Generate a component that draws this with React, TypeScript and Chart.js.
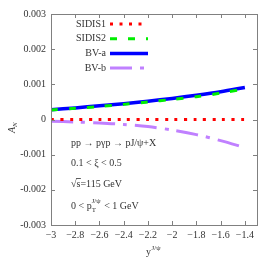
import React, { useEffect, useRef } from "react";
import { Chart, registerables } from "chart.js";

Chart.register(...registerables);

const xValues = [-3, -2.8, -2.6, -2.4, -2.2, -2.0, -1.8, -1.6, -1.4];
const sidis1 = [0, 0, 0, 0, 0, 0, 0, 0, 0];
const sidis2 = [0.00027, 0.00032, 0.00037, 0.00043, 0.0005, 0.00057, 0.00065, 0.00075, 0.00087];
const bvA = [0.00028, 0.00033, 0.00039, 0.00045, 0.00052, 0.0006, 0.00069, 0.00079, 0.00091];
const bvB = [-0.00005, -0.00007, -0.0001, -0.00014, -0.0002, -0.0003, -0.00043, -0.0006, -0.0008];

const xTicks = [-3, -2.8, -2.6, -2.4, -2.2, -2, -1.8, -1.6, -1.4];
const yTicks = [-0.003, -0.002, -0.001, 0, 0.001, 0.002, 0.003];

const seriesNames = ["SIDIS1", "SIDIS2", "BV-a", "BV-b"];

const SERIF = "'Liberation Serif', 'DejaVu Serif', serif";

const styles = [
  { color: "#ff0000", width: 3, dash: [3, 6.5] },
  { color: "#00ee00", width: 3, dash: [7, 11] },
  { color: "#0000ff", width: 3.5, dash: [] as number[] },
  { color: "#c080ff", width: 3, dash: [22, 8, 4, 8] },
];

const pts = (ys: number[]) => xValues.map((x, i) => ({ x, y: ys[i] }));

const framePlugin = {
  id: "frame",
  afterDraw(chart: any) {
    const { ctx, chartArea, scales } = chart;
    const { left, right, top, bottom } = chartArea;
    const x = scales.x;
    const y = scales.y;
    ctx.save();
    ctx.strokeStyle = "#808080";
    ctx.lineWidth = 1;
    ctx.setLineDash([]);
    ctx.strokeRect(Math.round(left) + 0.5, Math.round(top) + 0.5, Math.round(right - left), Math.round(bottom - top));
    const tl = 4;
    ctx.beginPath();
    xTicks.forEach((v) => {
      const px = Math.round(x.getPixelForValue(v)) + 0.5;
      ctx.moveTo(px, bottom);
      ctx.lineTo(px, bottom - tl);
      ctx.moveTo(px, top);
      ctx.lineTo(px, top + tl);
    });
    yTicks.forEach((v) => {
      const py = Math.round(y.getPixelForValue(v)) + 0.5;
      ctx.moveTo(left, py);
      ctx.lineTo(left + tl, py);
      ctx.moveTo(right, py);
      ctx.lineTo(right - tl, py);
    });
    ctx.stroke();

    // legend
    ctx.fillStyle = "#333";
    ctx.font = `10px ${SERIF}`;
    ctx.textAlign = "right";
    ctx.textBaseline = "middle";
    seriesNames.forEach((name, i) => {
      const yy = 24 + i * 14.7;
      ctx.fillText(name, 106, yy);
      const s = styles[i];
      ctx.save();
      ctx.strokeStyle = s.color;
      ctx.lineWidth = s.width;
      ctx.setLineDash(s.dash);
      ctx.beginPath();
      ctx.moveTo(110, yy);
      ctx.lineTo(148, yy);
      ctx.stroke();
      ctx.restore();
    });

    // annotations
    ctx.textAlign = "left";
    ctx.textBaseline = "alphabetic";
    ctx.font = `10px ${SERIF}`;
    ctx.fillText("pp \u2192 p\u03b3p \u2192 pJ/\u03c8+X", 71, 146);
    ctx.fillText("0.1 < \u03be < 0.5", 71, 166);
    // sqrt s
    ctx.fillText("\u221a", 71, 187);
    const sw = ctx.measureText("\u221a").width;
    ctx.fillText("s=115 GeV", 71 + sw, 187);
    const ssw = ctx.measureText("s").width;
    ctx.beginPath();
    ctx.lineWidth = 0.8;
    ctx.strokeStyle = "#333";
    ctx.moveTo(71 + sw - 0.5, 178.5);
    ctx.lineTo(71 + sw + ssw + 0.5, 178.5);
    ctx.stroke();
    // pT line
    let cx = 71;
    ctx.fillText("0 < p", cx, 209);
    cx += ctx.measureText("0 < p").width;
    ctx.font = `7px ${SERIF}`;
    ctx.fillText("T", cx, 212);
    ctx.fillText("J/\u03c8", cx, 203);
    cx += ctx.measureText("J/\u03c8").width + 1;
    ctx.font = `10px ${SERIF}`;
    ctx.fillText(" < 1 GeV", cx, 209);

    // axis titles
    ctx.save();
    ctx.translate(15, 127);
    ctx.rotate(-Math.PI / 2);
    ctx.textAlign = "left";
    ctx.font = `italic 10px ${SERIF}`;
    ctx.fillText("A", -6, 0);
    const aw = ctx.measureText("A").width;
    ctx.font = `italic 7px ${SERIF}`;
    ctx.fillText("N", -6 + aw, 2);
    ctx.restore();

    ctx.font = `10px ${SERIF}`;
    ctx.fillText("y", 146, 255);
    const yw = ctx.measureText("y").width;
    ctx.font = `7px ${SERIF}`;
    ctx.fillText("J/\u03c8", 146 + yw + 0.5, 250);
    ctx.restore();
  },
};

export default function App() {
  const ref = useRef<HTMLCanvasElement>(null);
  useEffect(() => {
    const canvas = ref.current!;
    const chart = new Chart(canvas, {
      type: "line",
      data: {
        datasets: [sidis1, sidis2, bvA, bvB].map((ys, i) => ({
          label: seriesNames[i],
          data: pts(ys),
          borderColor: styles[i].color,
          backgroundColor: styles[i].color,
          borderWidth: styles[i].width,
          borderDash: styles[i].dash,
          borderCapStyle: "butt" as const,
          pointRadius: 0,
          tension: 0.3,
          fill: false,
        })),
      },
      options: {
        responsive: false,
        animation: false,
        devicePixelRatio: 1,
        layout: { padding: { top: 14, right: 16, left: 0, bottom: 0 } },
        plugins: { legend: { display: false }, tooltip: { enabled: false } },
        scales: {
          x: {
            type: "linear",
            min: -3,
            max: -1.3,
            afterBuildTicks: (s: any) => {
              s.ticks = xTicks.map((v) => ({ value: v }));
            },
            afterFit: (s: any) => {
              s.height = 37;
            },
            grid: { display: false, drawTicks: false },
            border: { display: false },
            ticks: {
              padding: 4,
              maxRotation: 0,
              autoSkip: false,
              color: "#333",
              font: { family: SERIF, size: 10 },
              callback: (v: any) => {
                const n = Number(v);
                const s = Math.abs(n).toString();
                return n < 0 ? "\u2212" + s : s;
              },
            },
          },
          y: {
            type: "linear",
            min: -0.003,
            max: 0.003,
            afterBuildTicks: (s: any) => {
              s.ticks = yTicks.map((v) => ({ value: v }));
            },
            afterFit: (s: any) => {
              s.width = 51;
            },
            grid: { display: false, drawTicks: false },
            border: { display: false },
            ticks: {
              padding: 5,
              autoSkip: false,
              color: "#333",
              font: { family: SERIF, size: 10 },
              callback: (v: any) => {
                const n = Number(v);
                return Math.abs(n) < 1e-9 ? "0" : n.toFixed(3);
              },
            },
          },
        },
      },
      plugins: [framePlugin],
    });
    return () => chart.destroy();
  }, []);
  return (
    <div style={{ position: "fixed", left: 0, top: 0, width: 273, height: 262, background: "#fff" }}>
      <canvas ref={ref} width={273} height={262} style={{ display: "block" }} />
    </div>
  );
}
